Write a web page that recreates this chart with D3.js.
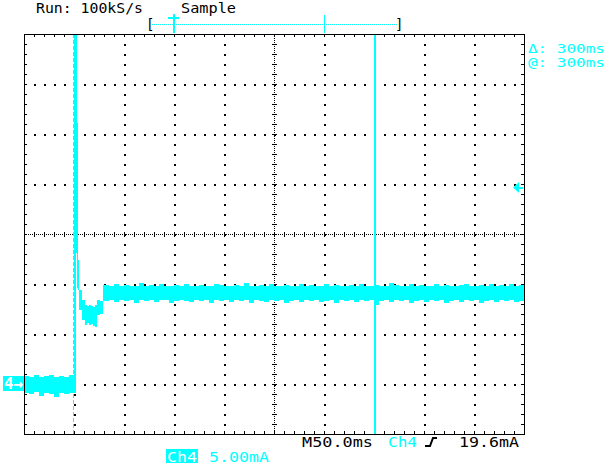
<!DOCTYPE html>
<style>
body { margin: 0; background: #fff; }
svg { display: block; }
text { font-family: "DejaVu Sans Mono", monospace; font-size: 14px; }
.grid .domain { display: none; }
</style>
<svg width="610" height="472"></svg>
<script src="https://d3js.org/d3.v7.min.js"></script>
<script>

// scope settings
var timePerDiv = 50,   // ms
    ampPerDiv = 5,     // mA
    groundDiv = 2.98,  // ch4 ground marker, divisions below centre
    trigLevel = 19.6,  // mA
    cursors = [0, 300],// ms
    sampleStep = 5;    // ms, plateau samples

// trace envelope (mA), pre-trigger + transient
var traceT  = [-49.5, -45, -40, -35, -30, -25, -20, -15, -10, -5,
               0, 2, 3, 4, 5.5, 8.5, 11.5, 13, 15, 17, 19, 21, 23.5, 26];
var traceHi = [0.7, 0.6, 0.8, 0.6, 0.7, 0.8, 0.6, 0.7, 0.6, 0.8,
               34.9, 34.9, 26, 12.3, 9.3, 8.3, 7.8, 7.7, 7.8, 7.7, 7.6, 7.8, 8.3, 8.2];
var traceLo = [-1.0, -1.1, -0.9, -1.3, -1.0, -1.1, -1.4, -1.0, -1.1, -1.0,
               -1.0, 13, 9.5, 9.3, 7.3, 6.3, 5.8, 6.0, 5.8, 5.9, 5.7, 5.6, 6.8, 6.9];

// plateau envelope (mA), from t = 29.5 ms then every 5 ms
var plateauHi = [9.8,9.7,9.9,9.7,9.8,9.7,9.7,10.0,9.7,9.8,
                 9.7,9.9,9.7,9.7,9.8,9.7,9.9,9.7,9.7,9.8,
                 9.7,9.7,9.9,9.8,9.7,9.7,9.8,9.7,10.0,9.7,
                 9.7,9.8,9.7,9.9,9.7,9.7,9.8,9.7,9.7,9.9,
                 9.7,9.8,9.7,9.7,9.9,9.7,9.8,9.7,9.7,9.8,
                 9.7,9.9,9.7,9.7,9.8,9.7,9.7,10.0,9.8,9.7,
                 9.7,9.9,9.7,9.8,9.7,9.7,9.9,9.7,9.8,9.7,
                 9.7,9.8,9.9,9.7,9.7,9.8,9.7,9.9,9.7,9.8,
                 9.7,9.9,9.7,9.8];
var plateauLo = [8.2,8.3,8.1,8.3,8.2,8.3,8.0,8.3,8.2,8.3,
                 8.1,8.3,8.3,8.0,8.2,8.3,8.2,8.1,8.3,8.2,
                 8.3,8.0,8.3,8.2,8.3,8.1,8.3,8.2,8.3,8.0,
                 8.3,8.2,8.1,8.3,8.2,8.3,8.0,8.2,8.3,8.1,
                 8.3,8.2,8.3,8.1,8.2,8.3,8.0,8.3,8.2,8.3,
                 8.1,8.3,8.2,8.3,7.8,8.2,8.3,8.1,8.3,8.2,
                 8.3,8.0,8.2,8.3,8.1,8.3,8.2,8.3,8.0,8.2,
                 8.3,8.1,8.3,8.2,8.3,8.0,8.2,8.3,8.1,8.3,
                 8.2,8.3,8.1,8.2];

var cyan = "#00ffff";
var svg = d3.select("svg").attr("shape-rendering", "crispEdges");
var pl = 24, pt0 = 34, w = 500, h = 400;

// division scales for the graticule
var gx = d3.scaleLinear().domain([0, 10]).range([pl, pl + w]),
    gy = d3.scaleLinear().domain([0, 8]).range([pt0, pt0 + h]);

// data scales
var x = d3.scaleLinear().domain([-49.5, -49.5 + 10 * timePerDiv]).range([pl, pl + w]);
var yMin = -(4 - groundDiv) * ampPerDiv;
var y = d3.scaleLinear().domain([yMin, yMin + 8 * ampPerDiv]).range([pt0 + h, pt0]);

var data = traceT.map(function(t, i) { return {t: t, hi: traceHi[i], lo: traceLo[i]}; });
var pts = [29.5].concat(d3.range(35, 450, sampleStep));
pts.forEach(function(t, i) { data.push({t: t, hi: plateauHi[i], lo: plateauLo[i]}); });
data.push({t: 450.5, hi: plateauHi[plateauHi.length - 1], lo: plateauLo[plateauLo.length - 1]});

// graticule dots on division lines
var minor = d3.range(0, 10.001, 0.2), minorY = d3.range(0, 8.001, 0.2);
var dots = svg.append("g").attr("fill", "#000");
d3.range(1, 10).filter(function(d) { return d !== 5; }).forEach(function(c) {
  dots.selectAll(null).data(minorY.slice(1, -1)).enter().append("rect")
      .attr("x", Math.round(gx(c))).attr("y", function(d) { return Math.round(gy(d)); })
      .attr("width", 2).attr("height", 2);
});
d3.range(1, 8).filter(function(d) { return d !== 4; }).forEach(function(r) {
  dots.selectAll(null).data(minor.slice(1, -1)).enter().append("rect")
      .attr("x", function(d) { return Math.round(gx(d)); }).attr("y", Math.round(gy(r)))
      .attr("width", 2).attr("height", 2);
});

// centre lines
svg.append("line").attr("x1", gx(0)).attr("x2", gx(10)).attr("y1", gy(4) + 0.5).attr("y2", gy(4) + 0.5)
    .attr("stroke", "#000").attr("stroke-dasharray", "1,1");
svg.append("line").attr("y1", gy(0)).attr("y2", gy(8)).attr("x1", gx(5) + 0.5).attr("x2", gx(5) + 0.5)
    .attr("stroke", "#000").attr("stroke-dasharray", "1,1");
svg.append("g").attr("class", "grid").attr("transform", "translate(0," + (gy(4) + 3) + ")")
    .call(d3.axisTop(gx).tickValues(minor).tickSize(5).tickFormat(""));
svg.append("g").attr("class", "grid").attr("transform", "translate(" + (gx(5) + 3) + ",0)")
    .call(d3.axisLeft(gy).tickValues(minorY).tickSize(5).tickFormat(""));

// border ticks
svg.append("g").attr("class", "grid").attr("transform", "translate(0," + pt0 + ")")
    .call(d3.axisBottom(gx).tickValues(minor).tickSize(3).tickFormat(""));
svg.append("g").attr("class", "grid").attr("transform", "translate(0," + (pt0 + h) + ")")
    .call(d3.axisTop(gx).tickValues(minor).tickSize(3).tickFormat(""));
svg.append("g").attr("class", "grid").attr("transform", "translate(" + pl + ",0)")
    .call(d3.axisRight(gy).tickValues(minorY).tickSize(3).tickFormat(""));
svg.append("g").attr("class", "grid").attr("transform", "translate(" + (pl + w) + ",0)")
    .call(d3.axisLeft(gy).tickValues(minorY).tickSize(3).tickFormat(""));

// trace
svg.append("path")
    .datum(data)
    .attr("fill", cyan)
    .attr("d", d3.area()
        .x(function(d) { return x(d.t); })
        .y0(function(d) { return y(d.lo); })
        .y1(function(d) { return y(d.hi); })
        .curve(d3.curveStepAfter));

// cursors (1 px wide columns)
svg.append("rect").attr("class", "cursor2")
    .attr("x", Math.floor(x(cursors[1])) + 1).attr("y", pt0)
    .attr("width", 1.5).attr("height", h).attr("fill", cyan);
svg.append("line").attr("class", "cursor1")
    .attr("x1", Math.floor(x(cursors[0])) + 0.5).attr("x2", Math.floor(x(cursors[0])) + 0.5)
    .attr("y1", pt0).attr("y2", pt0 + h)
    .attr("stroke", cyan).attr("stroke-dasharray", "4,2");

// border
svg.append("rect").attr("x", pl + 0.5).attr("y", pt0 + 0.5).attr("width", w).attr("height", h)
    .attr("fill", "none").attr("stroke", "#000");

// ground marker
var gY = Math.round(y(0));
svg.append("rect").attr("x", 3).attr("y", gY - 7).attr("width", 21).attr("height", 15).attr("fill", cyan);
svg.append("text").attr("x", 4).attr("y", gY + 6).attr("fill", "#fff")
    .style("font-size", "16px").style("font-weight", "bold")
    .attr("textLength", 19).attr("lengthAdjust", "spacingAndGlyphs").text("4\u2192");

// trigger level arrow
var tY = Math.round(y(trigLevel));
svg.append("path").attr("fill", cyan).attr("shape-rendering", "auto")
    .attr("d", "M513," + (tY + 0.5) + "L519," + (tY - 5) + "V" + (tY + 6) + "Z");
svg.append("rect").attr("x", 519).attr("y", tY - 0.5).attr("width", 4).attr("height", 2).attr("fill", cyan);

// record bar on top
svg.append("text").attr("x", 146).attr("y", 29).attr("fill", "#000").text("[");
svg.append("text").attr("x", 395).attr("y", 29).attr("fill", "#000").text("]");
svg.append("line").attr("x1", 152).attr("x2", 397).attr("y1", 24.5).attr("y2", 24.5)
    .attr("stroke", cyan).attr("stroke-dasharray", "1,1");
svg.append("line").attr("x1", 173.5).attr("x2", 173.5).attr("y1", 14).attr("y2", 33).attr("stroke", cyan).attr("stroke-width", 2);
svg.append("line").attr("x1", 168).attr("x2", 179).attr("y1", 18).attr("y2", 18).attr("stroke", cyan).attr("stroke-width", 2);
svg.append("line").attr("x1", 324.5).attr("x2", 324.5).attr("y1", 15).attr("y2", 33).attr("stroke", cyan);

// readouts
function label(str, x0, x1, yb, color, fs) {
  return svg.append("text").attr("x", x0).attr("y", yb).attr("fill", color)
      .style("font-size", (fs || 14) + "px")
      .attr("textLength", x1 - x0).attr("lengthAdjust", "spacingAndGlyphs").text(str);
}
label("Run: 100kS/s", 36, 143, 13, "#000");
label("Sample", 181, 236, 13, "#000");
label("\u0394: 300ms", 528, 605, 53, cyan, 13);
label("@: 300ms", 528, 605, 67, cyan, 13);
label("M50.0ms", 302, 373, 447, "#000");
label("Ch4", 388, 417, 447, cyan);
label("19.6mA", 459, 519, 447, "#000");
svg.append("path").attr("fill", "none").attr("stroke", "#000").attr("stroke-width", 2)
    .attr("shape-rendering", "auto").attr("d", "M425,446H430L433,438H437");
svg.append("rect").attr("x", 166).attr("y", 449).attr("width", 32).attr("height", 14).attr("fill", cyan);
label("Ch4", 167, 197, 462, "#fff");
label("5.00mA", 209, 269, 462, cyan);

</script>
